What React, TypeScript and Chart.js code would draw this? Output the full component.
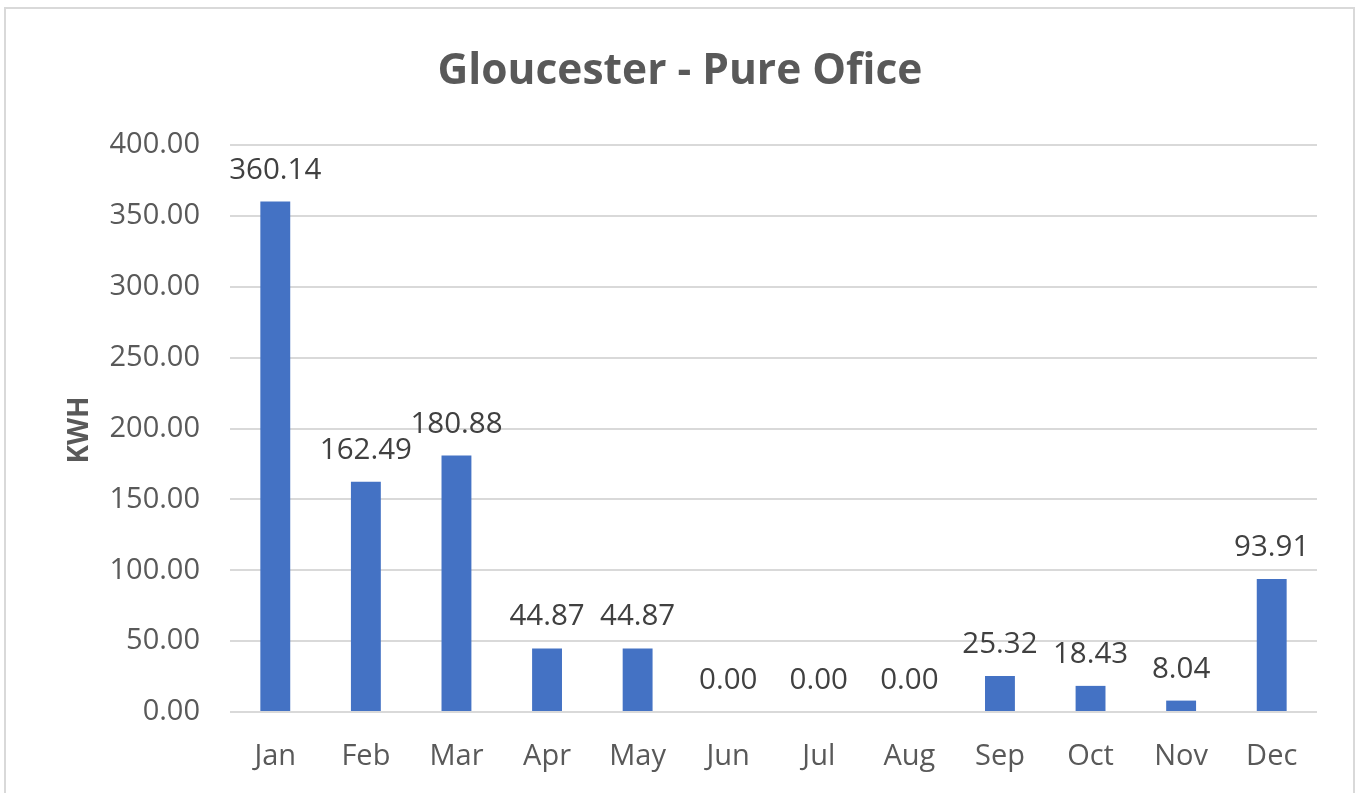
import React, { useEffect, useRef } from "react";
import { Chart, registerables } from "chart.js";

Chart.register(...registerables);

const months = ["Jan", "Feb", "Mar", "Apr", "May", "Jun", "Jul", "Aug", "Sep", "Oct", "Nov", "Dec"];
const kwhValues = [360.14, 162.49, 180.88, 44.87, 44.87, 0.0, 0.0, 0.0, 25.32, 18.43, 8.04, 93.91];
const chartTitle = "Gloucester - Pure Ofice";
const yAxisTitle = "KWH";

const FONT = "'Open Sans', 'DejaVu Sans', sans-serif";

const decorPlugin = {
  id: "decor",
  beforeDraw(chart: any) {
    const ctx = chart.ctx;
    ctx.save();
    ctx.fillStyle = "#ffffff";
    ctx.fillRect(0, 0, chart.width, chart.height);
    ctx.strokeStyle = "#d9d9d9";
    ctx.lineWidth = 2;
    ctx.strokeRect(5, 8, 1349, 820);
    ctx.restore();
  },
  afterDraw(chart: any) {
    const ctx = chart.ctx;
    ctx.save();
    ctx.fillStyle = "#595959";
    ctx.font = `bold 42.5px ${FONT}`;
    ctx.textAlign = "center";
    ctx.textBaseline = "alphabetic";
    ctx.fillText(chartTitle, 680, 84);
    ctx.translate(88, 430);
    ctx.rotate(-Math.PI / 2);
    ctx.font = `bold 28px ${FONT}`;
    ctx.fillText(yAxisTitle, 0, 0);
    ctx.restore();
  },
  afterDatasetsDraw(chart: any) {
    const ctx = chart.ctx;
    const meta = chart.getDatasetMeta(0);
    ctx.save();
    ctx.fillStyle = "#404040";
    ctx.font = `29.5px ${FONT}`;
    ctx.textAlign = "center";
    ctx.textBaseline = "alphabetic";
    meta.data.forEach((el: any, i: number) => {
      const v = chart.data.datasets[0].data[i] as number;
      ctx.fillText(v.toFixed(2), el.x, el.y - 23);
    });
    ctx.restore();
  },
};

export default function App() {
  const ref = useRef<HTMLCanvasElement>(null);
  useEffect(() => {
    if (!ref.current) return;
    const chart = new Chart(ref.current, {
      type: "bar",
      data: {
        labels: months,
        datasets: [
          {
            data: kwhValues,
            backgroundColor: "#4472C4",
            borderWidth: 0,
            categoryPercentage: 1,
            barPercentage: 0.33,
          },
        ],
      },
      options: {
        responsive: false,
        animation: false,
        layout: { padding: { top: 145, right: 43, bottom: 0, left: 0 } },
        plugins: {
          legend: { display: false },
          title: { display: false },
          tooltip: { enabled: false },
        },
        scales: {
          x: {
            grid: { display: false },
            border: { display: false },
            ticks: {
              color: "#595959",
              font: { family: FONT, size: 29 },
              padding: 19,
              maxRotation: 0,
            },
            afterFit: (s: any) => {
              s.height = 81;
            },
          },
          y: {
            min: 0,
            max: 400,
            grid: { color: "#d9d9d9", lineWidth: 2, drawTicks: false },
            border: { display: false },
            ticks: {
              stepSize: 50,
              color: "#595959",
              font: { family: FONT, size: 29 },
              padding: 30,
              callback: (v: any) => Number(v).toFixed(2),
            },
            afterFit: (s: any) => {
              s.width = 230;
            },
          },
        },
      },
      plugins: [decorPlugin],
    });
    return () => chart.destroy();
  }, []);
  return (
    <div style={{ position: "fixed", left: 0, top: 0, width: 1360, height: 793 }}>
      <canvas ref={ref} width={1360} height={793} style={{ display: "block" }} />
    </div>
  );
}
